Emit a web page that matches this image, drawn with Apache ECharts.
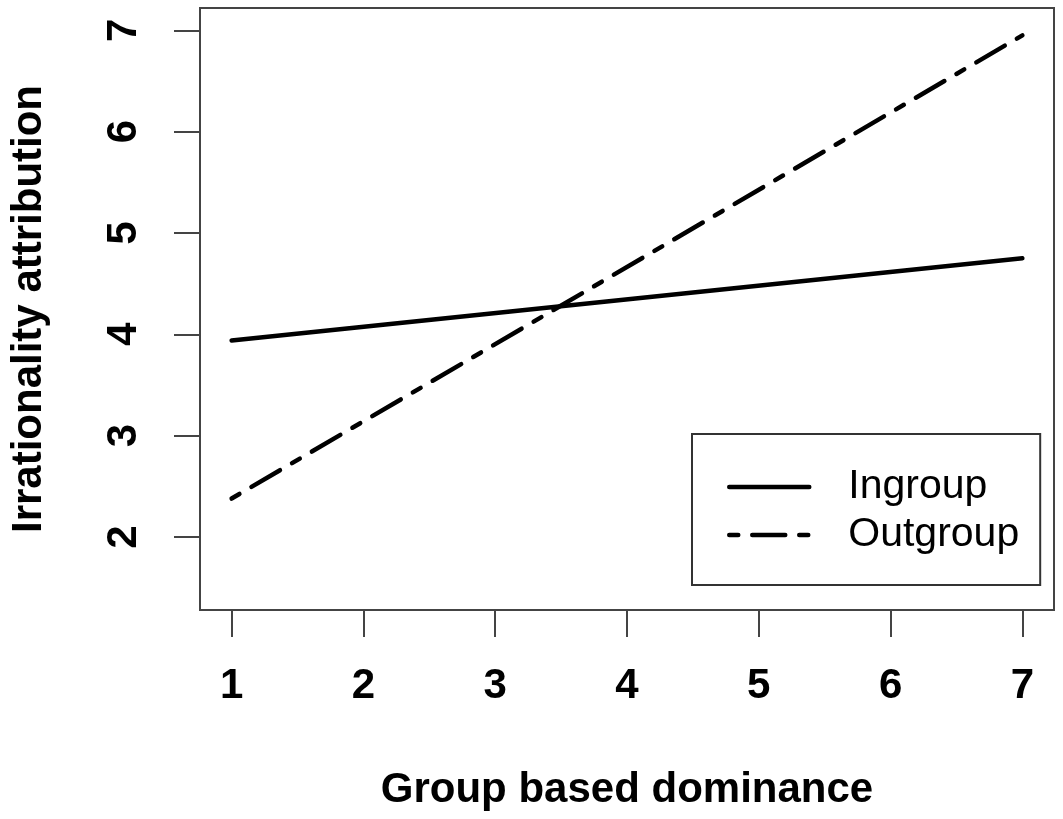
<!DOCTYPE html>
<html>
<head>
<meta charset="utf-8">
<script src="https://cdn.jsdelivr.net/npm/echarts@6/dist/echarts.min.js"></script>
<style>
html,body{margin:0;padding:0;background:#fff;}
#chart{width:1063px;height:819px;}
</style>
</head>
<body>
<div id="chart"></div>
<script>
const xValues = [1, 7];
const ingroup = [3.94, 4.75];
const outgroup = [2.38, 6.95];
const xTicks = [1, 2, 3, 4, 5, 6, 7];
const yTicks = [2, 3, 4, 5, 6, 7];
const seriesNames = ['Ingroup', 'Outgroup'];
const xTitle = 'Group based dominance';
const yTitle = 'Irrationality attribution';

const chart = echarts.init(document.getElementById('chart'), null, {renderer: 'canvas'});
const font = 'Liberation Sans, Arial, sans-serif';
chart.setOption({
  animation: false,
  backgroundColor: '#fff',
  grid: {
    left: 199, right: 9, top: 8, bottom: 209,
    show: true, borderColor: '#444', borderWidth: 2, backgroundColor: 'transparent'
  },
  legend: {
    orient: 'vertical',
    left: 692, top: 434,
    padding: [29, 21, 26, 35],
    borderColor: '#333', borderWidth: 2, borderRadius: 0,
    itemWidth: 80, itemHeight: 20, itemGap: 0,
    backgroundColor: '#fff',
    data: seriesNames,
    lineStyle: {width: 4.5},
    itemStyle: {color: 'rgba(0,0,0,0)', borderWidth: 0, opacity: 0},
    textStyle: {fontFamily: font, fontSize: 41, color: '#000', lineHeight: 48, padding: [0, 0, 0, 34]}
  },
  xAxis: {
    type: 'value', min: 0.76, max: 7.24,
    name: xTitle, nameLocation: 'middle', nameGap: 159,
    nameTextStyle: {fontFamily: font, fontSize: 42, fontWeight: 'bold', color: '#000'},
    axisLine: {show: false},
    splitLine: {show: false},
    axisTick: {show: true, length: 27, customValues: xTicks, lineStyle: {color: '#444', width: 2}},
    axisLabel: {customValues: xTicks, margin: 55, fontFamily: font, fontSize: 42, fontWeight: 'bold', color: '#000'}
  },
  yAxis: {
    type: 'value', min: 1.28, max: 7.22,
    name: yTitle, nameLocation: 'middle', nameGap: 150, nameRotate: 90,
    nameTextStyle: {fontFamily: font, fontSize: 42, fontWeight: 'bold', color: '#000'},
    axisLine: {show: false},
    splitLine: {show: false},
    axisTick: {show: true, length: 26, customValues: yTicks, lineStyle: {color: '#444', width: 2}},
    axisLabel: {customValues: yTicks, rotate: 90, margin: 55, fontFamily: font, fontSize: 42, fontWeight: 'bold', color: '#000'}
  },
  series: [
    {
      name: seriesNames[0], type: 'line', symbol: 'none', silent: true,
      data: xValues.map((x, i) => [x, ingroup[i]]),
      lineStyle: {color: '#000', width: 4.5, type: 'solid', cap: 'round'},
      itemStyle: {color: '#000'}
    },
    {
      name: seriesNames[1], type: 'line', symbol: 'none', silent: true,
      data: xValues.map((x, i) => [x, outgroup[i]]),
      lineStyle: {color: '#000', width: 4.5, type: [9, 14, 33, 14], cap: 'round'},
      itemStyle: {color: '#000'}
    }
  ]
});
</script>
</body>
</html>
